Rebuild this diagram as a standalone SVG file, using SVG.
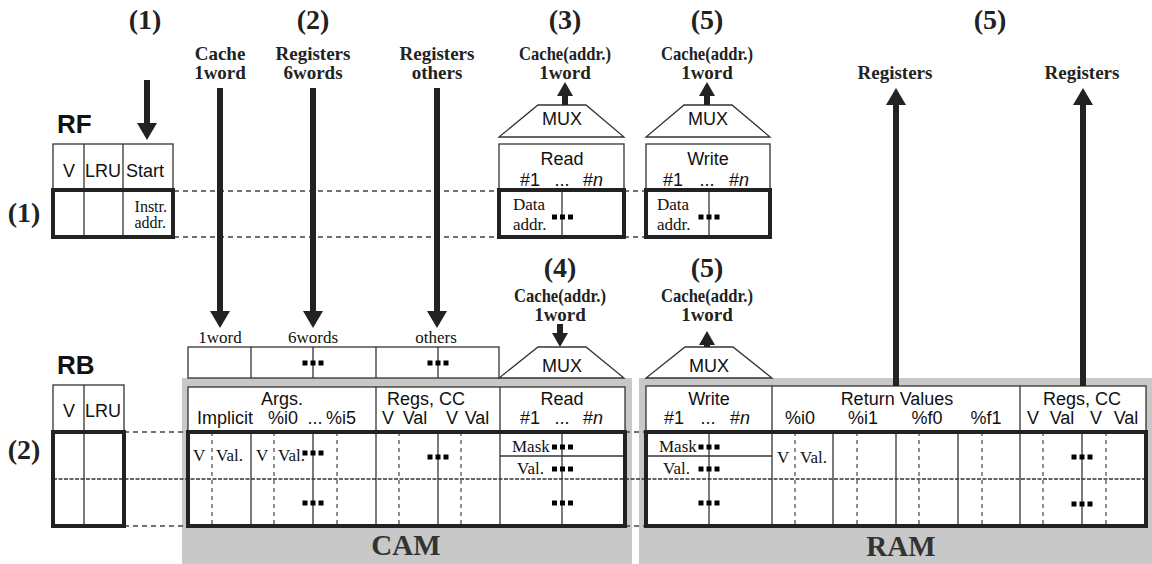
<svg xmlns="http://www.w3.org/2000/svg" xmlns:xlink="http://www.w3.org/1999/xlink" width="1152" height="564" viewBox="0 0 1152 564">
  <style>
    .num { font: bold 28px "Liberation Serif", "Times New Roman", serif; fill: #222; text-anchor: middle; }
    .lbl { font: bold 19px "Liberation Serif", "Times New Roman", serif; fill: #222; text-anchor: middle; }
    .name { font: bold 26px "Liberation Sans", Arial, sans-serif; fill: #111; }
    .big { font: bold 29px "Liberation Serif", "Times New Roman", serif; fill: #333; text-anchor: middle; }
    .t { font: 18px "Liberation Sans", Arial, sans-serif; fill: #111; text-anchor: middle; }
    .ti { font: italic 18px "Liberation Sans", Arial, sans-serif; }
    .s { font: 17px "Liberation Serif", "Times New Roman", serif; fill: #111; }
    .sm { font: 16px "Liberation Serif", "Times New Roman", serif; fill: #111; }
    .box { fill: #fff; stroke: #333; stroke-width: 1.3; }
    .thin { fill: none; stroke: #333; stroke-width: 1.3; }
    .thick { fill: none; stroke: #222; stroke-width: 4; }
    .vd { stroke: #444; stroke-width: 1.2; stroke-dasharray: 4 4; }
    .dash { stroke: #444; stroke-width: 1.3; stroke-dasharray: 5 4; fill: none; }
    .mid { stroke: #333; stroke-width: 1.5; stroke-dasharray: 4 1.5; fill: none; }
    .bar { stroke: #222; stroke-width: 6; fill: none; }
    .gray { fill: #c8c8c8; }
  </style>
  <defs>
    <marker id="head" viewBox="0 0 17 20" refX="0" refY="10" markerWidth="17" markerHeight="20" markerUnits="userSpaceOnUse" orient="auto">
      <path d="M0,0 L17,10 L0,20 z" fill="#222"/>
    </marker>
    <marker id="headS" viewBox="0 0 14 16" refX="0" refY="8" markerWidth="14" markerHeight="16" markerUnits="userSpaceOnUse" orient="auto">
      <path d="M0,0 L14,8 L0,16 z" fill="#222"/>
    </marker>
    <g id="dots">
      <rect x="-10.5" y="-2.5" width="5" height="5" fill="#000"/>
      <rect x="-2.5" y="-2.5" width="5" height="5" fill="#000"/>
      <rect x="5.5" y="-2.5" width="5" height="5" fill="#000"/>
    </g>
  </defs>

  <!-- shaded memory areas -->
  <rect class="gray" x="182" y="378" width="450" height="186"/>
  <rect class="gray" x="639" y="378" width="513" height="186"/>
  <text class="big" x="406" y="555">CAM</text>
  <text class="big" x="901" y="556">RAM</text>

  <!-- row labels -->
  <text class="num" x="24" y="222">(1)</text>
  <text class="num" x="24" y="459">(2)</text>

  <!-- stage headings -->
  <g id="headings">
    <text class="num" x="145" y="29">(1)</text>
    <text class="num" x="313" y="29">(2)</text>
    <text class="num" x="565" y="29">(3)</text>
    <text class="num" x="707" y="29">(5)</text>
    <text class="num" x="990" y="29">(5)</text>
    <text class="lbl" x="220" y="60">Cache</text>
    <text class="lbl" x="220" y="79">1word</text>
    <text class="lbl" x="313" y="60">Registers</text>
    <text class="lbl" x="313" y="79">6words</text>
    <text class="lbl" x="437" y="60">Registers</text>
    <text class="lbl" x="437" y="79">others</text>
    <text class="lbl" x="565" y="60" textLength="92" lengthAdjust="spacingAndGlyphs">Cache(addr.)</text>
    <text class="lbl" x="565" y="79">1word</text>
    <text class="lbl" x="707" y="60" textLength="92" lengthAdjust="spacingAndGlyphs">Cache(addr.)</text>
    <text class="lbl" x="707" y="79">1word</text>
    <text class="lbl" x="895" y="79">Registers</text>
    <text class="lbl" x="1082" y="79">Registers</text>
    <text class="num" x="560" y="277">(4)</text>
    <text class="num" x="707" y="277">(5)</text>
    <text class="lbl" x="560" y="302" textLength="92" lengthAdjust="spacingAndGlyphs">Cache(addr.)</text>
    <text class="lbl" x="560" y="321">1word</text>
    <text class="lbl" x="707" y="302" textLength="92" lengthAdjust="spacingAndGlyphs">Cache(addr.)</text>
    <text class="lbl" x="707" y="321">1word</text>
  </g>

  <!-- row guide lines between tables -->
  <g id="guides">
    <line class="dash" x1="174" y1="191" x2="499" y2="191"/>
    <line class="dash" x1="174" y1="237" x2="499" y2="237"/>
    <line class="dash" x1="624" y1="191" x2="646" y2="191"/>
    <line class="dash" x1="624" y1="237" x2="646" y2="237"/>
    <line class="dash" x1="124" y1="432" x2="188" y2="432"/>
    <line class="dash" x1="124" y1="526" x2="188" y2="526"/>
    <line class="dash" x1="625" y1="432" x2="646" y2="432"/>
    <line class="dash" x1="625" y1="526" x2="646" y2="526"/>
  </g>

  <!-- RF table -->
  <g id="rf">
    <text class="name" x="57" y="133">RF</text>
    <rect class="box" x="53" y="144" width="120" height="46"/>
    <rect x="53" y="190" width="120" height="47" fill="#fff"/>
    <line class="thin" x1="84" y1="144" x2="84" y2="237"/>
    <line class="thin" x1="123" y1="144" x2="123" y2="237"/>
    <text class="t" x="69" y="177">V</text>
    <text class="t" x="103" y="177">LRU</text>
    <text class="t" x="145" y="177">Start</text>
    <text class="sm" x="167" y="212" text-anchor="end">Instr.</text>
    <text class="sm" x="166" y="228" text-anchor="end">addr.</text>
    <rect class="thick" x="53" y="190" width="120" height="47"/>
  </g>

  <!-- cache read port (3) -->
  <g id="read-top">
    <polygon class="box" points="499,137 624,137 586,105 538,105"/>
    <text class="t" x="562" y="125">MUX</text>
    <rect class="box" x="499" y="144" width="125" height="46"/>
    <text class="t" x="562" y="165">Read</text>
    <text class="t" x="530" y="186">#1</text>
    <text class="t" x="562" y="186">...</text>
    <text class="t" x="593" y="186">#<tspan class="ti">n</tspan></text>
    <rect x="499" y="190" width="125" height="47" fill="#fff"/>
    <line class="thin" x1="562" y1="190" x2="562" y2="237"/>
    <text class="s" x="513" y="210">Data</text>
    <text class="s" x="513" y="230">addr.</text>
    <use xlink:href="#dots" x="562.5" y="217"/>
    <rect class="thick" x="499" y="190" width="125" height="47"/>
  </g>

  <!-- cache write port (5) -->
  <g id="write-top">
    <polygon class="box" points="646,137 770,137 732,105 684,105"/>
    <text class="t" x="708" y="125">MUX</text>
    <rect class="box" x="646" y="144" width="124" height="46"/>
    <text class="t" x="708" y="165">Write</text>
    <text class="t" x="673" y="186">#1</text>
    <text class="t" x="707" y="186">...</text>
    <text class="t" x="739" y="186">#<tspan class="ti">n</tspan></text>
    <rect x="646" y="190" width="124" height="47" fill="#fff"/>
    <line class="thin" x1="709" y1="190" x2="709" y2="237"/>
    <text class="s" x="657" y="210">Data</text>
    <text class="s" x="657" y="230">addr.</text>
    <use xlink:href="#dots" x="709" y="217"/>
    <rect class="thick" x="646" y="190" width="124" height="47"/>
  </g>

  <!-- register input buffer -->
  <g id="input">
    <text class="s" x="220" y="343" text-anchor="middle">1word</text>
    <text class="s" x="313" y="343" text-anchor="middle">6words</text>
    <text class="s" x="436" y="343" text-anchor="middle">others</text>
    <rect class="box" x="188" y="347" width="311" height="31"/>
    <line class="thin" x1="251" y1="347" x2="251" y2="378"/>
    <line class="thin" x1="376" y1="347" x2="376" y2="378"/>
    <line class="thin" x1="313" y1="347" x2="313" y2="378"/>
    <line class="thin" x1="438" y1="347" x2="438" y2="378"/>
    <use xlink:href="#dots" x="313" y="363"/>
    <use xlink:href="#dots" x="438" y="363"/>
  </g>

  <!-- RB table -->
  <g id="rb">
    <text class="name" x="57" y="374">RB</text>
    <rect class="box" x="53" y="385" width="71" height="47"/>
    <rect x="53" y="432" width="71" height="94" fill="#fff"/>
    <line class="thin" x1="84" y1="385" x2="84" y2="526"/>
    <text class="t" x="69" y="417">V</text>
    <text class="t" x="103" y="417">LRU</text>
    <rect class="thick" x="53" y="432" width="71" height="94"/>
  </g>

  <!-- CAM part of RB -->
  <g id="cam">
    <rect class="box" x="188" y="387" width="437" height="45"/>
    <line class="thin" x1="376" y1="387" x2="376" y2="432"/>
    <line class="thin" x1="500" y1="387" x2="500" y2="432"/>
    <text class="t" x="282" y="405">Args.</text>
    <text class="t" x="225" y="424">Implicit</text>
    <text class="t" x="283" y="424">%i0</text>
    <text class="t" x="315" y="424">...</text>
    <text class="t" x="341" y="424">%i5</text>
    <text class="t" x="426" y="405">Regs, CC</text>
    <text class="t" x="388" y="424">V</text>
    <text class="t" x="415" y="424">Val</text>
    <text class="t" x="452" y="424">V</text>
    <text class="t" x="477" y="424">Val</text>
    <text class="t" x="562" y="405">Read</text>
    <text class="t" x="530" y="424">#1</text>
    <text class="t" x="562" y="424">...</text>
    <text class="t" x="593" y="424">#<tspan class="ti">n</tspan></text>
    <rect x="188" y="432" width="437" height="94" fill="#fff"/>
    <line class="vd" x1="212" y1="432" x2="212" y2="526"/>
    <line class="vd" x1="274" y1="432" x2="274" y2="526"/>
    <line class="vd" x1="337" y1="432" x2="337" y2="526"/>
    <line class="vd" x1="399" y1="432" x2="399" y2="526"/>
    <line class="vd" x1="461" y1="432" x2="461" y2="526"/>
    <line class="thin" x1="251" y1="432" x2="251" y2="526"/>
    <line class="thin" x1="313" y1="432" x2="313" y2="526"/>
    <line class="thin" x1="376" y1="432" x2="376" y2="526"/>
    <line class="thin" x1="438" y1="432" x2="438" y2="526"/>
    <line class="thin" x1="500" y1="432" x2="500" y2="526"/>
    <line class="thin" x1="562" y1="432" x2="562" y2="526"/>
    <line class="thin" x1="500" y1="456" x2="625" y2="456"/>
    <text class="s" x="193" y="461">V</text>
    <text class="s" x="216" y="461">Val.</text>
    <text class="s" x="256" y="461">V</text>
    <text class="s" x="278" y="461">Val.</text>
    <text class="s" x="512" y="452">Mask</text>
    <text class="s" x="517" y="474">Val.</text>
    <use xlink:href="#dots" x="313" y="453"/>
    <use xlink:href="#dots" x="438" y="457"/>
    <use xlink:href="#dots" x="313" y="503"/>
    <use xlink:href="#dots" x="562.5" y="447"/>
    <use xlink:href="#dots" x="562.5" y="469"/>
    <use xlink:href="#dots" x="562.5" y="503"/>
    <polygon class="box" points="499,378 624,378 586,347 538,347"/>
    <text class="t" x="562" y="372">MUX</text>
  </g>

  <!-- RAM part of RB -->
  <g id="ram">
    <rect class="box" x="646" y="386" width="500" height="46"/>
    <line class="thin" x1="772" y1="386" x2="772" y2="432"/>
    <line class="thin" x1="1020" y1="386" x2="1020" y2="432"/>
    <text class="t" x="709" y="405">Write</text>
    <text class="t" x="674" y="424">#1</text>
    <text class="t" x="708" y="424">...</text>
    <text class="t" x="740" y="424">#<tspan class="ti">n</tspan></text>
    <text class="t" x="897" y="405">Return Values</text>
    <text class="t" x="800" y="424">%i0</text>
    <text class="t" x="863" y="424">%i1</text>
    <text class="t" x="927" y="424">%f0</text>
    <text class="t" x="986" y="424">%f1</text>
    <text class="t" x="1082" y="405">Regs, CC</text>
    <text class="t" x="1033" y="424">V</text>
    <text class="t" x="1062" y="424">Val</text>
    <text class="t" x="1096" y="424">V</text>
    <text class="t" x="1126" y="424">Val</text>
    <rect x="646" y="432" width="500" height="94" fill="#fff"/>
    <line class="vd" x1="795" y1="432" x2="795" y2="526"/>
    <line class="vd" x1="857" y1="432" x2="857" y2="526"/>
    <line class="vd" x1="919" y1="432" x2="919" y2="526"/>
    <line class="vd" x1="982" y1="432" x2="982" y2="526"/>
    <line class="vd" x1="1043" y1="432" x2="1043" y2="526"/>
    <line class="vd" x1="1106" y1="432" x2="1106" y2="526"/>
    <line class="thin" x1="709" y1="432" x2="709" y2="526"/>
    <line class="thin" x1="772" y1="432" x2="772" y2="526"/>
    <line class="thin" x1="833" y1="432" x2="833" y2="526"/>
    <line class="thin" x1="896" y1="432" x2="896" y2="526"/>
    <line class="thin" x1="958" y1="432" x2="958" y2="526"/>
    <line class="thin" x1="1020" y1="432" x2="1020" y2="526"/>
    <line class="thin" x1="1082" y1="432" x2="1082" y2="526"/>
    <line class="thin" x1="646" y1="456" x2="772" y2="456"/>
    <text class="s" x="659" y="452">Mask</text>
    <text class="s" x="663" y="474">Val.</text>
    <text class="s" x="777" y="463">V</text>
    <text class="s" x="800" y="463">Val.</text>
    <use xlink:href="#dots" x="709" y="447"/>
    <use xlink:href="#dots" x="709" y="469"/>
    <use xlink:href="#dots" x="709" y="503"/>
    <use xlink:href="#dots" x="1082" y="457"/>
    <use xlink:href="#dots" x="1082" y="504"/>
    <polygon class="box" points="646,378 772,378 733,347 685,347"/>
    <text class="t" x="709" y="372">MUX</text>
  </g>

  <!-- shared entry-row divider and table frames -->
  <line class="mid" x1="53" y1="479" x2="1146" y2="479"/>
  <rect class="thick" x="188" y="432" width="437" height="94"/>
  <rect class="thick" x="646" y="432" width="500" height="94"/>
  <rect class="thick" x="53" y="432" width="71" height="94"/>

  <!-- data paths -->
  <g id="connectors">
    <line class="bar" x1="147" y1="80" x2="147" y2="123" marker-end="url(#head)"/>
    <line class="bar" x1="220" y1="88" x2="220" y2="311" marker-end="url(#head)"/>
    <line class="bar" x1="313" y1="88" x2="313" y2="311" marker-end="url(#head)"/>
    <line class="bar" x1="437" y1="88" x2="437" y2="311" marker-end="url(#head)"/>
    <line class="bar" x1="565" y1="105" x2="565" y2="96" marker-end="url(#headS)"/>
    <line class="bar" x1="707" y1="105" x2="707" y2="96" marker-end="url(#headS)"/>
    <line class="bar" x1="560" y1="324" x2="560" y2="333" marker-end="url(#headS)"/>
    <line class="bar" x1="707" y1="347" x2="707" y2="345" marker-end="url(#headS)"/>
    <line class="bar" x1="896" y1="386" x2="896" y2="105" marker-end="url(#head)"/>
    <line class="bar" x1="1083" y1="386" x2="1083" y2="105" marker-end="url(#head)"/>
  </g>
</svg>
